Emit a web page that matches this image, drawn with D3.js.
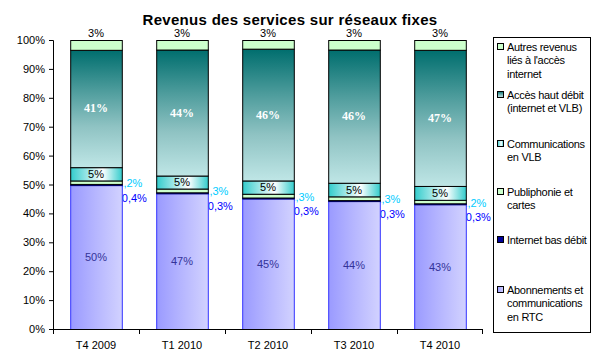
<!DOCTYPE html>
<html>
<head>
<meta charset="utf-8">
<script src="https://cdn.jsdelivr.net/npm/d3@7"></script>
<style>
  body { margin: 0; background: #fff; }
  svg text { font-family: Arial, "Liberation Sans", sans-serif; }
</style>
</head>
<body>
<svg id="chart" width="604" height="361"></svg>
<script>
// data (percent of fixed network revenue)
var quarters    = ['T4 2009', 'T1 2010', 'T2 2010', 'T3 2010', 'T4 2010'];
var rtc         = [49.8, 47.0, 45.2, 44.3, 43.2];
var basDebit    = [0.4, 0.3, 0.3, 0.3, 0.3];
var publiphonie = [1.2, 1.3, 1.3, 1.3, 1.2];
var vlb         = [4.6, 4.5, 4.6, 4.7, 4.8];
var hautDebit   = [40.6, 43.6, 45.6, 46.1, 47.1];
var autres      = [3.4, 3.3, 3.0, 3.3, 3.4];
var yTicks      = [0, 10, 20, 30, 40, 50, 60, 70, 80, 90, 100];

var series = [
  {key: 'rtc',   values: rtc,         legend: ['Abonnements et', 'communications', 'en RTC'], fill: 'url(#gRtc)',  stroke: '#3333ff'},
  {key: 'bas',   values: basDebit,    legend: ['Internet bas débit'],                          fill: '#000099',     stroke: '#000066'},
  {key: 'publi', values: publiphonie, legend: ['Publiphonie et', 'cartes'],                    fill: '#ccffcc',     stroke: '#000'},
  {key: 'vlb',   values: vlb,         legend: ['Communications', 'en VLB'],                    fill: 'url(#gVlb)',  stroke: '#000'},
  {key: 'haut',  values: hautDebit,   legend: ['Accès haut débit', '(internet et VLB)'],       fill: 'url(#gHaut)', stroke: '#000'},
  {key: 'autre', values: autres,      legend: ['Autres revenus', "liés à l'accès", 'internet'], fill: '#ccffcc',    stroke: '#000'}
];

var svg = d3.select('#chart');
var plotL = 53, plotR = 483, plotT = 40, plotB = 329;

var defs = svg.append('defs');
function grad(id, horiz, stops){
  var g = defs.append('linearGradient').attr('id', id)
    .attr('x1', 0).attr('y1', 0).attr('x2', horiz ? 1 : 0).attr('y2', horiz ? 0 : 1);
  stops.forEach(function(s){ g.append('stop').attr('offset', s[0]).attr('stop-color', s[1]); });
}
grad('gRtc', true, [[0, '#9a9aff'], [0.45, '#b4b4ff'], [1, '#d2d2ff']]);
grad('gVlb', true, [[0, '#33cccc'], [0.62, '#ffffff'], [1, '#33cccc']]);
grad('gHaut', false, [[0, '#006e6e'], [0.35, '#4f9d9d'], [0.65, '#8fc3c3'], [1, '#bfe6e6']]);

var x = d3.scaleBand().domain(quarters).range([plotL, plotR]).paddingInner(0.4).paddingOuter(0.2);
var xCell = d3.scaleBand().domain(quarters).range([plotL, plotR]);
var y = d3.scaleLinear().domain([0, 100]).range([plotB, plotT]);

// title
svg.append('text').attr('x', 290).attr('y', 25).attr('text-anchor', 'middle')
  .style('font-size', '15px').style('font-weight', 'bold').style('letter-spacing', '0.3px')
  .text('Revenus des services sur réseaux fixes');

// stacked rows
var stacked = quarters.map(function(q, i){
  var acc = 0;
  return series.map(function(s){
    var d = {q: q, key: s.key, v: s.values[i], y0: acc, y1: acc + s.values[i], s: s};
    acc += s.values[i];
    return d;
  });
});
var segs = [].concat.apply([], stacked);
var fmtPct = function(v){ return d3.format('.0f')(v) + '%'; };
var fmtDec = function(v){ return d3.format('.1f')(v).replace('.', ',') + '%'; };

// small outside labels go under the bars so the bar hides the first digit
var outside = svg.append('g').style('font-size', '11px');
outside.selectAll('.lblPubli').data(segs.filter(function(d){ return d.key == 'publi'; }))
  .enter().append('text').attr('class', 'lblPubli')
  .attr('x', function(d){ return x(d.q) + x.bandwidth() - 4.5; })
  .attr('y', function(d){ return y((d.y0 + d.y1) / 2) + 5; })
  .attr('fill', '#00ccff').text(function(d){ return fmtDec(d.v); });
outside.selectAll('.lblBas').data(segs.filter(function(d){ return d.key == 'bas'; }))
  .enter().append('text').attr('class', 'lblBas')
  .attr('x', function(d){ return x(d.q) + x.bandwidth(); })
  .attr('y', function(d){ return y((d.y0 + d.y1) / 2) + 17; })
  .attr('fill', '#0000ff').text(function(d){ return fmtDec(d.v); });

svg.append('g').selectAll('rect').data(segs).enter().append('rect')
  .attr('x', function(d){ return x(d.q) + 0.5; })
  .attr('width', x.bandwidth())
  .attr('y', function(d){ return y(d.y1) + 0.5; })
  .attr('height', function(d){ return Math.max(1, y(d.y0) - y(d.y1)); })
  .attr('fill', function(d){ return d.s.fill; })
  .attr('stroke', function(d){ return d.s.stroke; })
  .attr('stroke-width', 1);

// inside labels
var inside = svg.append('g').style('font-size', '11px').attr('text-anchor', 'middle');
inside.selectAll('.lblRtc').data(segs.filter(function(d){ return d.key == 'rtc'; }))
  .enter().append('text')
  .attr('x', function(d){ return x(d.q) + x.bandwidth() / 2; })
  .attr('y', function(d){ return y((d.y0 + d.y1) / 2) + 4; })
  .attr('fill', '#333399').text(function(d){ return fmtPct(d.v); });
inside.selectAll('.lblVlb').data(segs.filter(function(d){ return d.key == 'vlb'; }))
  .enter().append('text')
  .attr('x', function(d){ return x(d.q) + x.bandwidth() / 2; })
  .attr('y', function(d){ return y((d.y0 + d.y1) / 2) + 4; })
  .attr('fill', '#000').text(function(d){ return fmtPct(d.v); });
inside.selectAll('.lblHaut').data(segs.filter(function(d){ return d.key == 'haut'; }))
  .enter().append('text')
  .attr('x', function(d){ return x(d.q) + x.bandwidth() / 2; })
  .attr('y', function(d){ return y((d.y0 + d.y1) / 2) + 4; })
  .attr('fill', '#fff').style('font-family', '"Liberation Serif", serif').style('font-weight', 'bold')
  .style('font-size', '12px').text(function(d){ return fmtPct(d.v); });
inside.selectAll('.lblAutre').data(segs.filter(function(d){ return d.key == 'autre'; }))
  .enter().append('text')
  .attr('x', function(d){ return x(d.q) + x.bandwidth() / 2; })
  .attr('y', function(d){ return y(d.y1) - 3; })
  .attr('fill', '#000').text(function(d){ return fmtPct(d.v); });

// axes
var axisY = d3.axisLeft(y).tickValues(yTicks).tickSize(4).tickPadding(4)
  .tickFormat(function(d){ return d + '%'; });
svg.append('g').attr('transform', 'translate(' + plotL + ',0)').call(axisY)
  .call(function(g){ g.selectAll('text').style('font-size', '11px').style('font-family', 'Arial, "Liberation Sans"').attr('fill', '#000'); })
  .call(function(g){ g.selectAll('line,path').attr('stroke', '#000'); });

var axisX = d3.axisBottom(x).tickSize(0).tickPadding(12);
svg.append('g').attr('transform', 'translate(0,' + plotB + ')').call(axisX)
  .call(function(g){ g.select('.domain').remove(); })
  .call(function(g){ g.selectAll('text').style('font-size', '11px').style('font-family', 'Arial, "Liberation Sans"').attr('fill', '#000'); });
svg.append('line').attr('x1', plotL).attr('x2', plotR).attr('y1', plotB + 0.5).attr('y2', plotB + 0.5).attr('stroke', '#000');
svg.append('g').selectAll('line').data(quarters.concat(['end'])).enter().append('line')
  .attr('x1', function(d){ return d == 'end' ? plotR - 0.5 : xCell(d) + 0.5; })
  .attr('x2', function(d){ return d == 'end' ? plotR - 0.5 : xCell(d) + 0.5; })
  .attr('y1', plotB).attr('y2', plotB + 5).attr('stroke', '#000');

// legend
var lg = svg.append('g');
lg.append('rect').attr('x', 493.5).attr('y', 37.5).attr('width', 97).attr('height', 295)
  .attr('fill', '#fff').attr('stroke', '#000');
var legendTop = [51, 99, 148, 196, 244, 294];
var legendItems = series.slice().reverse();
legendItems.forEach(function(s, i){
  var gy = legendTop[i];
  lg.append('rect').attr('x', 497.5).attr('y', gy - 7.5).attr('width', 6).attr('height', 6)
    .attr('fill', s.fill).attr('stroke', '#000');
  var t = lg.append('text').attr('x', 507).attr('y', gy).style('font-size', '11px').style('letter-spacing', '-0.3px');
  s.legend.forEach(function(line, j){
    t.append('tspan').attr('x', 507).attr('dy', j == 0 ? 0 : 13.3).text(line);
  });
});
</script>
</body>
</html>
